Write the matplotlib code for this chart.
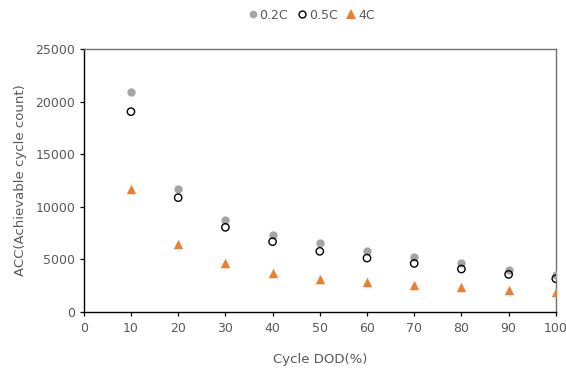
import matplotlib
matplotlib.use("Agg")
import matplotlib.pyplot as plt
from matplotlib.lines import Line2D

dod = [10, 20, 30, 40, 50, 60, 70, 80, 90, 100]
acc_02c = [20900, 11700, 8770, 7350, 6530, 5800, 5200, 4660, 4030, 3520]
acc_05c = [19040, 10870, 8050, 6690, 5770, 5130, 4620, 4090, 3580, 3170]
acc_4c = [11690, 6430, 4660, 3740, 3170, 2880, 2570, 2350, 2060, 1870]

xticks = [0, 10, 20, 30, 40, 50, 60, 70, 80, 90, 100]
yticks = [0, 5000, 10000, 15000, 20000, 25000]

plt.rcParams['font.family'] = ['DejaVu Sans']
txt = '#595959'

fig = plt.figure(figsize=(5.66, 3.68), dpi=100)
ax = fig.add_axes([0.148, 0.152, 0.834, 0.715])

ax.scatter(dod, acc_02c, s=36, color='#A5A5A5', zorder=3, label='0.2C', linewidths=0)
ax.scatter(dod, acc_05c, s=28, facecolors='none', edgecolors='#000000', linewidths=1.0, zorder=4, label='0.5C')
ax.scatter(dod, acc_4c, s=46, marker='^', color='#ED7D31', linewidths=0, zorder=3, label='4C')

ax.set_xlim(0, 100)
ax.set_ylim(0, 25000)
ax.set_xticks(xticks)
ax.set_yticks(yticks)
ax.tick_params(axis='both', direction='out', length=3, width=0.9, colors='#000000',
               labelcolor=txt, labelsize=9)
ax.tick_params(axis='x', pad=4)
ax.tick_params(axis='y', pad=3)
for s in ['left', 'bottom']:
    ax.spines[s].set_color('#000000')
    ax.spines[s].set_linewidth(1.0)
for s in ['top', 'right']:
    ax.spines[s].set_color('#707070')
    ax.spines[s].set_linewidth(1.0)

ax.set_xlabel('Cycle DOD(%)', color=txt, fontsize=9.5, labelpad=13)
ax.set_ylabel('ACC(Achievable cycle count)', color=txt, fontsize=9.5, labelpad=6)

handles = [
    Line2D([], [], marker='o', linestyle='none', color='#A5A5A5', markeredgewidth=0, markersize=5.5),
    Line2D([], [], marker='o', linestyle='none', markerfacecolor='none', markeredgecolor='#000000', markeredgewidth=1.0, markersize=5.0),
    Line2D([], [], marker='^', linestyle='none', color='#ED7D31', markeredgewidth=0, markersize=6.5),
]
leg = fig.legend(handles, ['0.2C', '0.5C', '4C'], loc='center', bbox_to_anchor=(0.55, 0.959),
                 ncol=3, frameon=False, fontsize=9, handletextpad=0.15, columnspacing=0.7,
                 handlelength=0.8, labelcolor=txt)

fig.savefig('out.png', dpi=100)
